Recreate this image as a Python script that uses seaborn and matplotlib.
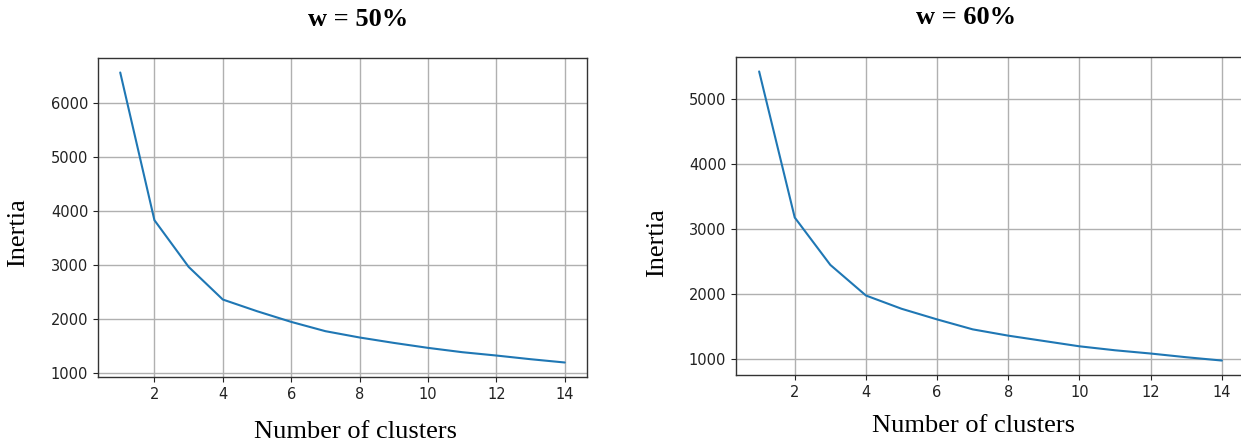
import matplotlib
matplotlib.use("Agg")
import matplotlib.pyplot as plt
import seaborn as sns
import pandas as pd

clusters = list(range(1, 15))
inertia_50 = [6568, 3833, 2969, 2364, 2148, 1950, 1778, 1661, 1561, 1469, 1389, 1327, 1259, 1198]
inertia_60 = [5418, 3170, 2441, 1970, 1766, 1602, 1449, 1352, 1270, 1188, 1127, 1077, 1020, 969]
titles = ["w = 50%", "w = 60%"]

sns.set_style("ticks")
plt.rcParams["font.family"] = ["DejaVu Sans"]

fig = plt.figure(figsize=(12.41, 4.48), dpi=100)
W, H = 1241, 448

def add_axes(px_left, px_top, px_right, px_bottom):
    return fig.add_axes([px_left / W, 1 - px_bottom / H,
                         (px_right - px_left) / W, (px_bottom - px_top) / H])

ax1 = add_axes(98, 58, 587, 377)
ax2 = add_axes(736, 57, 1245, 375)

for ax, vals in [(ax1, inertia_50), (ax2, inertia_60)]:
    df = pd.DataFrame({"k": clusters, "inertia": vals})
    sns.lineplot(data=df, x="k", y="inertia", ax=ax, color="#1f77b4", linewidth=1.5)
    ax.grid(True, color="#b0b0b0", linewidth=1.0)
    ax.set_xlabel("")
    ax.set_ylabel("")
    ax.set_xticks([2, 4, 6, 8, 10, 12, 14])
    ax.tick_params(labelsize=10.5, length=3.5, width=0.8, colors="#222222")
    for s in ax.spines.values():
        s.set_color("#333333")
        s.set_linewidth(1.0)
        s.set_visible(True)

ax1.set_yticks([1000, 2000, 3000, 4000, 5000, 6000])
ax2.set_yticks([1000, 2000, 3000, 4000, 5000])

serif = "Liberation Serif"
fig.text(358 / W, 1 - 20 / H, titles[0], ha="center", va="center",
         fontsize=19, fontweight="bold", family=serif, color="black")
fig.text(966 / W, 1 - 18 / H, titles[1], ha="center", va="center",
         fontsize=19, fontweight="bold", family=serif, color="black")
fig.text(355 / W, 1 - 432 / H, "Number of clusters", ha="center", va="center",
         fontsize=19, family=serif, color="black")
fig.text(973 / W, 1 - 426 / H, "Number of clusters", ha="center", va="center",
         fontsize=19, family=serif, color="black")
fig.text(18 / W, 1 - 233 / H, "Inertia", ha="center", va="center",
         rotation=90, fontsize=19, family=serif, color="black")
fig.text(657 / W, 1 - 243 / H, "Inertia", ha="center", va="center",
         rotation=90, fontsize=19, family=serif, color="black")

fig.savefig("out.png", dpi=100)
